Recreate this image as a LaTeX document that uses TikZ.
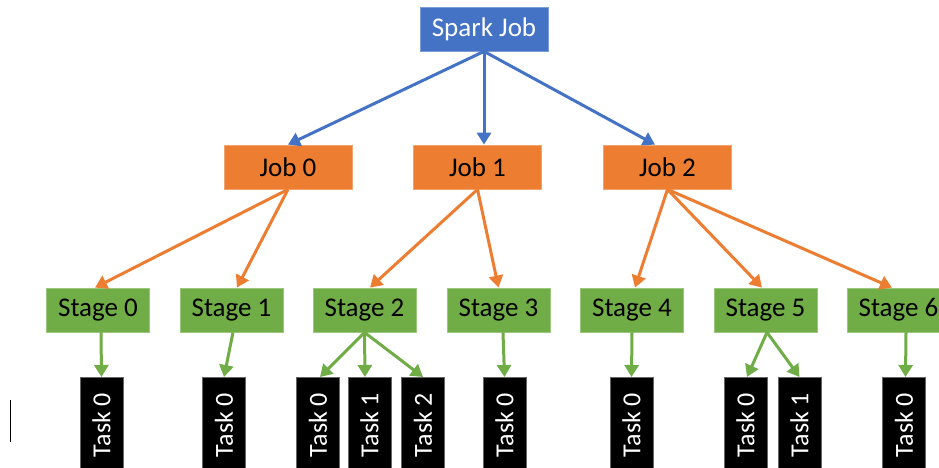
\documentclass[tikz,border=0pt]{standalone}
\usepackage{fontspec}
\setmainfont{Carlito}
\usetikzlibrary{arrows.meta}

\definecolor{sparkblue}{HTML}{4472C4}
\definecolor{joborange}{HTML}{ED7D31}
\definecolor{stagegreen}{HTML}{70AD47}

\tikzset{
  box/.style={rectangle, inner sep=0pt, line width=0.8pt, font=\fontsize{27}{31}\selectfont},
  sparkbox/.style={box, fill=sparkblue, draw=sparkblue!70!white, text=white,
    minimum width=128pt, minimum height=44pt},
  jobbox/.style={box, fill=joborange, draw=joborange!70!white, text=black,
    minimum width=128pt, minimum height=44pt},
  stagebox/.style={box, fill=stagegreen, draw=stagegreen!70!white, text=black,
    minimum width=103pt, minimum height=44pt},
  taskbox/.style={box, fill=black, draw=black!60!white, text=white,
    minimum width=43pt, minimum height=96pt, anchor=north},
  tasklabel/.style={rotate=90, text=white, font=\fontsize{26}{30}\selectfont, inner sep=0pt},
  link/.style={line width=3pt, -{Triangle[width=14pt,length=12pt]}},
  bluelink/.style={link, draw=sparkblue, fill=sparkblue},
  orangelink/.style={link, draw=joborange, fill=joborange},
  greenlink/.style={link, draw=stagegreen, fill=stagegreen},
}

\begin{document}
\begin{tikzpicture}[x=1pt, y=-1pt]
  \clip (0,0) rectangle (939,468);
  \fill[white] (0,0) rectangle (939,468);

  % top level
  \node[sparkbox] (spark) at (484,29) {Spark Job};

  % jobs
  \node[jobbox] (job0) at (288,167) {Job 0};
  \node[jobbox] (job1) at (477.5,167) {Job 1};
  \node[jobbox] (job2) at (667.5,167) {Job 2};

  % stages
  \node[stagebox] (st0) at (98,310) {Stage 0};
  \node[stagebox] (st1) at (231.5,310) {Stage 1};
  \node[stagebox] (st2) at (364.5,310) {Stage 2};
  \node[stagebox] (st3) at (498.5,310) {Stage 3};
  \node[stagebox] (st4) at (632,310) {Stage 4};
  \node[stagebox] (st5) at (765.5,310) {Stage 5};
  \node[stagebox] (st6) at (898.5,310) {Stage 6};

  % tasks (rotated labels)
  \foreach \name/\x/\lbl in {t00/101.5/Task 0, t10/224/Task 0, t20/318/Task 0,
      t21/369.5/Task 1, t22/423/Task 2, t30/504.5/Task 0, t40/631.5/Task 0,
      t50/745.5/Task 0, t51/799.5/Task 1, t60/904/Task 0} {
    \node[taskbox] (\name) at (\x,377) {};
    \node[tasklabel] at (\x,425) {\lbl};
  }

  % spark job -> jobs
  \draw[bluelink] (spark.south) -- (job0.north);
  \draw[bluelink] (spark.south) -- (spark.south |- job1.north);
  \draw[bluelink] (spark.south) -- ([xshift=-12.5pt]job2.north);

  % jobs -> stages
  \draw[orangelink] (job0.south) -- ([xshift=-3pt]st0.north);
  \draw[orangelink] (job0.south) -- ([xshift=5.5pt]st1.north);
  \draw[orangelink] (job1.south) -- ([xshift=5.5pt]st2.north);
  \draw[orangelink] (job1.south) -- (st3.north);
  \draw[orangelink] (job2.south) -- ([xshift=3pt]st4.north);
  \draw[orangelink] (job2.south) -- ([xshift=-3.5pt]st5.north);
  \draw[orangelink] (job2.south) -- ([xshift=-6.5pt]st6.north);

  % stages -> tasks
  \draw[greenlink] ([xshift=3pt]st0.south) -- (t00.north);
  \draw[greenlink] ([xshift=1.5pt]st1.south) -- (t10.north);
  \draw[greenlink] (st2.south) -- ([xshift=2pt]t20.north);
  \draw[greenlink] (st2.south) -- ([xshift=-4.5pt]t21.north);
  \draw[greenlink] (st2.south) -- (t22.north);
  \draw[greenlink] ([xshift=4.5pt]st3.south) -- (t30.north);
  \draw[greenlink] (st4.south) -- (t40.north);
  \draw[greenlink] ([xshift=1.5pt]st5.south) -- ([xshift=1.5pt]t50.north);
  \draw[greenlink] ([xshift=1.5pt]st5.south) -- (t51.north);
  \draw[greenlink] ([xshift=7.5pt]st6.south) -- ([xshift=1.5pt]t60.north);

  % thin vertical bar at the left edge
  \draw[line width=1.3pt, black] (10.5,400) -- (10.5,442);
\end{tikzpicture}
\end{document}
